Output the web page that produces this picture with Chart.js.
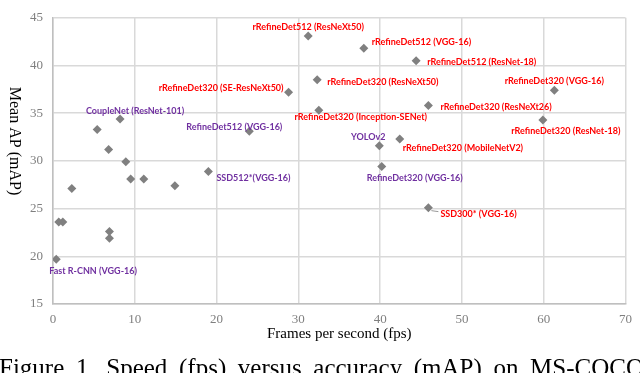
<!DOCTYPE html>
<html>
<head>
<meta charset="utf-8">
<script src="https://cdn.jsdelivr.net/npm/chart.js@4.4.1/dist/chart.umd.min.js"></script>
<style>
  html, body { margin: 0; padding: 0; background: #fff; overflow: hidden; }
  #wrap { position: relative; width: 640px; height: 373px; overflow: hidden; }
  #chart { position: absolute; left: 0; top: 0; }
  #caption {
    position: absolute; left: -1px; top: 355px; width: 645px;
    font: 25px "Liberation Serif", "Times New Roman", serif; color: #000;
    white-space: nowrap; line-height: 25px;
    text-align: justify; text-align-last: justify;
  }
</style>
</head>
<body>
<div id="wrap">
  <canvas id="chart" width="640" height="373"></canvas>
  <div id="caption">Figure 1. Speed (fps) versus accuracy (mAP) on MS-COCO</div>
</div>
<script>
// speed (fps) and accuracy (mAP) of each detector
const fps = [0.4, 0.7, 1.2, 2.3, 5.4, 6.8, 6.9, 6.9, 8.2, 8.9, 9.5, 11.1, 14.9, 19.0,
             24.0, 28.8, 31.2, 32.3, 32.5, 38.0, 39.9, 40.2, 42.4, 44.4, 45.9, 45.9, 59.9, 61.3];
const mAP = [19.7, 23.6, 23.6, 27.1, 33.3, 31.2, 22.6, 21.9, 34.4, 29.9, 28.1, 28.1, 27.4, 28.9,
             33.1, 37.2, 43.1, 38.5, 35.3, 41.8, 31.6, 29.4, 32.3, 40.5, 35.8, 25.1, 34.3, 37.4];
const names = [
  'Fast R-CNN (VGG-16)', '', '', '', '', '', '', '', 'CoupleNet (ResNet-101)', '', '', '', '', 'SSD512*(VGG-16)',
  'RefineDet512 (VGG-16)', 'rRefineDet320 (SE-ResNeXt50)', 'rRefineDet512 (ResNeXt50)', 'rRefineDet320 (ResNeXt50)',
  'rRefineDet320 (Inception-SENet)', 'rRefineDet512 (VGG-16)', 'YOLOv2', 'RefineDet320 (VGG-16)',
  'rRefineDet320 (MobileNetV2)', 'rRefineDet512 (ResNet-18)', 'rRefineDet320 (ResNeXt26)', 'SSD300* (VGG-16)',
  'rRefineDet320 (ResNet-18)', 'rRefineDet320 (VGG-16)'
];
const xTicks = [0, 10, 20, 30, 40, 50, 60, 70];
const yTicks = [15, 20, 25, 30, 35, 40, 45];

// label styling / placement: [colour, align, dx, dy] per labelled point
const RED = '#ff0000', PURPLE = '#7030a0';
const labelStyle = {
  0: [PURPLE, 'left', -7, 12],
  8: [PURPLE, 'center', 15, -8],
  13: [PURPLE, 'left', 8, 7],
  14: [PURPLE, 'center', -15, -4],
  15: [RED, 'right', -5, -4],
  16: [RED, 'center', 0, -9],
  17: [RED, 'left', 10, 2],
  18: [RED, 'center', 42, 7],
  19: [RED, 'left', 8, -6],
  20: [PURPLE, 'center', -11, -9],
  21: [PURPLE, 'center', 33, 11],
  22: [RED, 'left', 3, 9],
  23: [RED, 'left', 11, 1],
  24: [RED, 'left', 12, 2],
  25: [RED, 'left', 12, 6],
  26: [RED, 'center', 23, 11],
  27: [RED, 'center', 0, -9]
};

const pointLabels = {
  id: 'pointLabels',
  afterDatasetsDraw(chart) {
    const ctx = chart.ctx;
    const meta = chart.getDatasetMeta(0);
    ctx.save();
    ctx.font = 'bold 9px Lato, "Noto Sans", sans-serif';
    ctx.textBaseline = 'middle';
    names.forEach((name, i) => {
      if (!name) return;
      const [color, align, dx, dy] = labelStyle[i];
      const p = meta.data[i];
      if (i === 25) { // small leader line
        ctx.strokeStyle = '#999';
        ctx.lineWidth = 1;
        ctx.beginPath();
        ctx.moveTo(p.x + 3, p.y + 3);
        ctx.lineTo(p.x + 10, p.y + 4);
        ctx.stroke();
      }
      ctx.fillStyle = color;
      ctx.textAlign = align;
      ctx.fillText(name, p.x + dx, p.y + dy);
    });
    ctx.restore();
  }
};

const yTitle = {
  id: 'yTitle',
  afterDraw(chart) {
    const ctx = chart.ctx;
    ctx.save();
    ctx.translate(14, 141);
    ctx.rotate(Math.PI / 2);
    ctx.font = '16px "Liberation Serif", "Times New Roman", serif';
    ctx.fillStyle = '#000';
    ctx.textAlign = 'center';
    ctx.textBaseline = 'middle';
    ctx.fillText('Mean AP (mAP)', 0, 0);
    ctx.restore();
  }
};

const tickFont = { family: '"Liberation Serif", "Times New Roman", serif', size: 13 };

new Chart(document.getElementById('chart'), {
  type: 'scatter',
  data: {
    datasets: [{
      data: fps.map((x, i) => ({ x: x, y: mAP[i] })),
      pointStyle: 'rectRot',
      pointRadius: 4.5,
      backgroundColor: '#808080',
      borderColor: '#808080',
      borderWidth: 0
    }]
  },
  options: {
    responsive: false,
    animation: false,
    layout: { padding: { top: 6, right: 7, left: 0, bottom: 0 } },
    plugins: { legend: { display: false }, tooltip: { enabled: false } },
    scales: {
      x: {
        type: 'linear', min: 0, max: 70,
        afterBuildTicks: s => { s.ticks = xTicks.map(v => ({ value: v })); },
        afterFit: s => { s.height = 69; },
        ticks: { color: '#7f7f7f', font: tickFont, padding: 8 },
        grid: { color: '#d9d9d9', lineWidth: 1.5, drawTicks: false },
        border: { color: '#bfbfbf', width: 1.5 },
        title: {
          display: true, text: 'Frames per second (fps)', color: '#000',
          font: { family: '"Liberation Serif", "Times New Roman", serif', size: 15 },
          padding: { top: 0, bottom: 30 }
        }
      },
      y: {
        type: 'linear', min: 15, max: 45,
        afterBuildTicks: s => { s.ticks = yTicks.map(v => ({ value: v })); },
        afterFit: s => { s.width = 53; },
        ticks: { color: '#7f7f7f', font: tickFont, padding: 10 },
        grid: { color: '#d9d9d9', lineWidth: 1.5, drawTicks: false },
        border: { color: '#bfbfbf', width: 1.5 }
      }
    }
  },
  plugins: [pointLabels, yTitle]
});
</script>
</body>
</html>
